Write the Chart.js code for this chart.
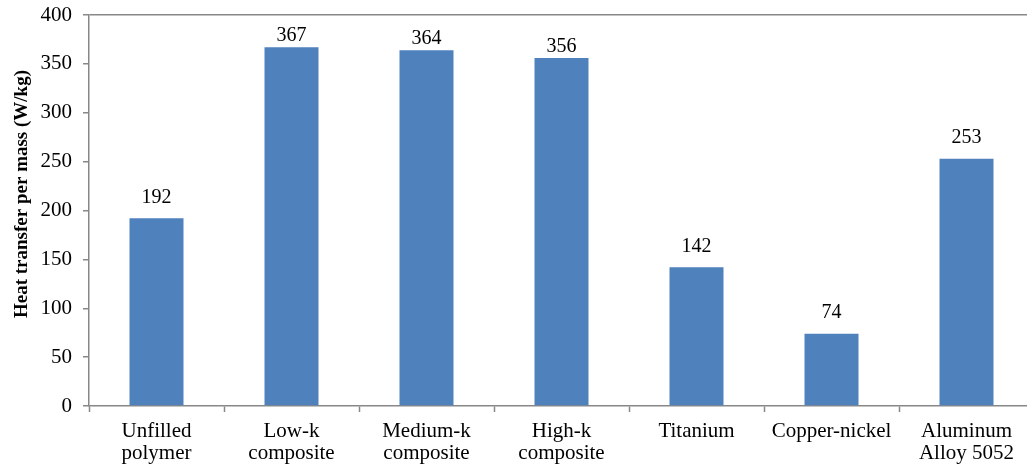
<!DOCTYPE html>
<html>
<head>
<meta charset="utf-8">
<title>Heat transfer per mass</title>
<script src="https://cdn.jsdelivr.net/npm/chart.js@4/dist/chart.umd.min.js"></script>
<style>
  html, body { margin: 0; padding: 0; background: #ffffff; overflow: hidden; }
  #wrap { position: relative; width: 1034px; height: 469px; }
</style>
</head>
<body>
<div id="wrap"><canvas id="chart"></canvas></div>
<script>
// Materials along the x axis (multi-line labels as arrays)
const categories = [
  ["Unfilled", "polymer"],
  ["Low-k", "composite"],
  ["Medium-k", "composite"],
  ["High-k", "composite"],
  "Titanium",
  "Copper-nickel",
  ["Aluminum", "Alloy 5052"]
];

// Heat transfer per mass, W/kg
const heatPerMass = [192, 367, 364, 356, 142, 74, 253];

// Value axis
const yMin = 0;
const yMax = 400;
const yStep = 50;

const yTitle = "Heat transfer per mass (W/kg)";

const AXIS = "#888888";
const SERIF = "'Liberation Serif', 'Times New Roman', serif";

// Value labels above each bar
const valueLabels = {
  id: "valueLabels",
  afterDatasetsDraw(chart) {
    const { ctx, chartArea } = chart;
    const meta = chart.getDatasetMeta(0);
    ctx.save();
    ctx.font = "20px " + SERIF;
    ctx.fillStyle = "#000000";
    ctx.textAlign = "center";
    ctx.textBaseline = "alphabetic";
    meta.data.forEach((bar, i) => {
      const gap = (bar.y - chartArea.top) < 60 ? 6 : 15.5;
      ctx.fillText(String(chart.data.datasets[0].data[i]), bar.x, bar.y - gap);
    });
    ctx.restore();
  }
};

// Rotated y-axis title
const yAxisTitle = {
  id: "yAxisTitle",
  afterDraw(chart) {
    const { ctx } = chart;
    ctx.save();
    ctx.translate(27, 194);
    ctx.rotate(-Math.PI / 2);
    ctx.font = "bold 19px " + SERIF;
    ctx.fillStyle = "#000000";
    ctx.textAlign = "center";
    ctx.textBaseline = "alphabetic";
    ctx.fillText(yTitle, 0, 0);
    ctx.restore();
  }
};

new Chart(document.getElementById("chart"), {
  type: "bar",
  data: {
    labels: categories,
    datasets: [{
      data: heatPerMass,
      backgroundColor: "#4F81BD",
      borderWidth: 0,
      barPercentage: 0.4,
      categoryPercentage: 1.0
    }]
  },
  options: {
    responsive: true,
    maintainAspectRatio: false,
    animation: false,
    layout: { padding: { top: 15, right: 0, bottom: 0, left: 0 } },
    plugins: {
      legend: { display: false },
      tooltip: { enabled: false },
      title: { display: false }
    },
    scales: {
      x: {
        offset: true,
        afterFit: (s) => { s.height = 63; s.paddingLeft = 0; s.paddingRight = 0; },
        grid: {
          offset: true,
          drawOnChartArea: false,
          drawTicks: true,
          tickLength: 6,
          tickColor: AXIS,
          tickWidth: 1.5
        },
        border: { display: true, color: AXIS, width: 1.5 },
        ticks: {
          color: "#000000",
          padding: 8,
          maxRotation: 0,
          autoSkip: false,
          font: { family: SERIF, size: 21, lineHeight: 1.05 }
        }
      },
      y: {
        min: yMin,
        max: yMax,
        afterFit: (s) => { s.width = 89; s.paddingTop = 0; s.paddingBottom = 0; },
        grid: {
          color: (c) => (c.tick && c.tick.value === yMax ? AXIS : "rgba(0,0,0,0)"),
          lineWidth: 1.5,
          drawTicks: true,
          tickLength: 6,
          tickColor: AXIS,
          tickWidth: 1.5
        },
        border: { display: true, color: AXIS, width: 1.5 },
        ticks: {
          stepSize: yStep,
          color: "#000000",
          padding: 11,
          font: { family: SERIF, size: 21 }
        }
      }
    }
  },
  plugins: [valueLabels, yAxisTitle]
});
</script>
</body>
</html>
